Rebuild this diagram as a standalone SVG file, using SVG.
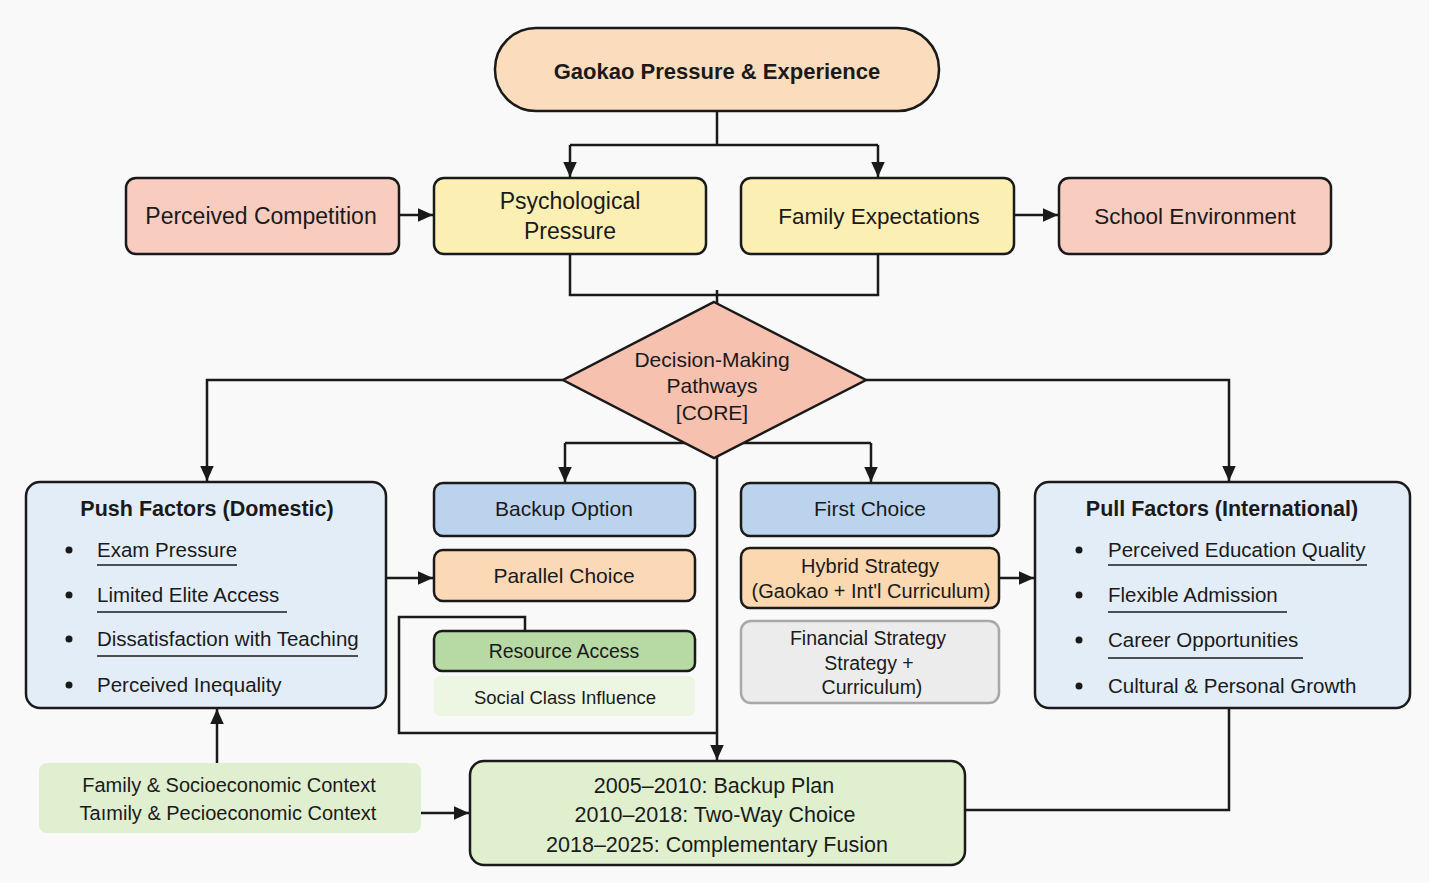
<svg xmlns="http://www.w3.org/2000/svg" width="1429" height="883" viewBox="0 0 1429 883">
<style>
text{font-family:"Liberation Sans",Arial,sans-serif;fill:#1a1a1a;text-anchor:middle}
.b{font-weight:bold}
.l{text-anchor:start}
.box{stroke:#1a1a1a;stroke-width:2.5}
.c{fill:none;stroke:#1a1a1a;stroke-width:2.5}
.u{stroke:#1a1a1a;stroke-width:1.6}
</style>
<defs>
<marker id="ah" viewBox="0 0 10 10" refX="10" refY="5" markerWidth="6" markerHeight="6" orient="auto" markerUnits="strokeWidth">
<path d="M0,0.5 L10,5 L0,9.5 z" fill="#1a1a1a"/>
</marker>
</defs>
<rect width="1429" height="883" fill="#f9f9f9"/>

<g id="connectors">
<path class="c" d="M717,111 V145"/>
<path class="c" d="M570,145 H878"/>
<path class="c" d="M570,145 V177" marker-end="url(#ah)"/>
<path class="c" d="M878,145 V177" marker-end="url(#ah)"/>
<path class="c" d="M399,215 H433" marker-end="url(#ah)"/>
<path class="c" d="M1014,215 H1058" marker-end="url(#ah)"/>
<path class="c" d="M570,254 V295 H878 V254"/>
<path class="c" d="M717,290 V304"/>
<path class="c" d="M563,380 H207 V481" marker-end="url(#ah)"/>
<path class="c" d="M866,380 H1229 V481" marker-end="url(#ah)"/>
<path class="c" d="M565,443 H871"/>
<path class="c" d="M565,443 V482" marker-end="url(#ah)"/>
<path class="c" d="M871,443 V482" marker-end="url(#ah)"/>
<path class="c" d="M717,455 V760" marker-end="url(#ah)"/>
<path class="c" d="M386,578 H433" marker-end="url(#ah)"/>
<path class="c" d="M999,578 H1034" marker-end="url(#ah)"/>
<path class="c" d="M525,631 V617 H399 V733 H717"/>
<path class="c" d="M217,763 V709" marker-end="url(#ah)"/>
<path class="c" d="M421,813 H469" marker-end="url(#ah)"/>
<path class="c" d="M1229,708 V810 H965"/>
</g>

<g id="gaokao">
<rect class="box" x="495" y="28" width="444" height="83" rx="41" fill="#fbdcbc"/>
<text class="b" x="717" y="79" font-size="22">Gaokao Pressure &amp; Experience</text>
</g>

<g id="perceived-competition">
<rect class="box" x="126" y="178" width="273" height="76" rx="10" fill="#f9ccc0"/>
<text x="261" y="224" font-size="23">Perceived Competition</text>
</g>
<g id="psychological-pressure">
<rect class="box" x="434" y="178" width="272" height="76" rx="10" fill="#fcefb4"/>
<text x="570" y="209" font-size="23">Psychological</text>
<text x="570" y="239" font-size="23">Pressure</text>
</g>
<g id="family-expectations">
<rect class="box" x="741" y="178" width="273" height="76" rx="10" fill="#fcefb4"/>
<text x="879" y="224" font-size="22.5">Family Expectations</text>
</g>
<g id="school-environment">
<rect class="box" x="1059" y="178" width="272" height="76" rx="10" fill="#f9ccc0"/>
<text x="1195" y="224" font-size="22.5">School Environment</text>
</g>

<g id="decision">
<polygon class="box" points="714,302 866,380 714,458 563,380" fill="#f7c1b0"/>
<text x="712" y="367" font-size="21">Decision-Making</text>
<text x="712" y="393" font-size="21">Pathways</text>
<text x="712" y="420" font-size="21">[CORE]</text>
</g>

<g id="push-factors">
<rect class="box" x="26" y="482" width="360" height="226" rx="14" fill="#e3edf7"/>
<text class="b" x="207" y="516" font-size="21.5">Push Factors (Domestic)</text>
<circle cx="69" cy="550" r="3.5" fill="#1a1a1a"/>
<text class="l" x="97" y="557" font-size="20.5">Exam Pressure</text>
<line class="u" x1="97" y1="565" x2="237" y2="565"/>
<circle cx="69" cy="595" r="3.5" fill="#1a1a1a"/>
<text class="l" x="97" y="602" font-size="20.5">Limited Elite Access</text>
<line class="u" x1="97" y1="612" x2="287" y2="612"/>
<circle cx="69" cy="639" r="3.5" fill="#1a1a1a"/>
<text class="l" x="97" y="646" font-size="20.5">Dissatisfaction with Teaching</text>
<line class="u" x1="97" y1="656" x2="358" y2="656"/>
<circle cx="69" cy="685" r="3.5" fill="#1a1a1a"/>
<text class="l" x="97" y="692" font-size="20.5">Perceived Inequality</text>
</g>

<g id="backup-option">
<rect class="box" x="434" y="483" width="261" height="53" rx="9" fill="#bcd3ee"/>
<text x="564" y="516" font-size="21">Backup Option</text>
</g>
<g id="parallel-choice">
<rect class="box" x="434" y="550" width="261" height="51" rx="9" fill="#fcd9b6"/>
<text x="564" y="583" font-size="21">Parallel Choice</text>
</g>
<g id="resource-access">
<rect class="box" x="434" y="631" width="261" height="40" rx="8" fill="#b7d9a3"/>
<text x="564" y="658" font-size="19.5">Resource Access</text>
</g>
<g id="social-class">
<rect x="434" y="676" width="261" height="40" rx="6" fill="#edf6e2"/>
<text x="565" y="704" font-size="18.5">Social Class Influence</text>
</g>

<g id="first-choice">
<rect class="box" x="741" y="483" width="258" height="53" rx="9" fill="#bcd3ee"/>
<text x="870" y="516" font-size="21">First Choice</text>
</g>
<g id="hybrid-strategy">
<rect class="box" x="741" y="548" width="258" height="60" rx="9" fill="#fbd8b0"/>
<text x="870" y="573" font-size="20">Hybrid Strategy</text>
<text x="871" y="598" font-size="20">(Gaokao + Int'l Curriculum)</text>
</g>
<g id="financial-strategy">
<rect x="741" y="621" width="258" height="82" rx="10" fill="#ececec" stroke="#a8a8a8" stroke-width="2.5"/>
<text x="868" y="645" font-size="19.5">Financial Strategy</text>
<text x="869" y="670" font-size="19.5">Strategy +</text>
<text x="872" y="694" font-size="19.5">Curriculum)</text>
</g>

<g id="pull-factors">
<rect class="box" x="1035" y="482" width="375" height="226" rx="14" fill="#e3edf7"/>
<text class="b" x="1222" y="516" font-size="21.5">Pull Factors (International)</text>
<circle cx="1079" cy="550" r="3.5" fill="#1a1a1a"/>
<text class="l" x="1108" y="557" font-size="20.5">Perceived Education Quality</text>
<line class="u" x1="1108" y1="565" x2="1367" y2="565"/>
<circle cx="1079" cy="595" r="3.5" fill="#1a1a1a"/>
<text class="l" x="1108" y="602" font-size="20.5">Flexible Admission</text>
<line class="u" x1="1108" y1="612" x2="1287" y2="612"/>
<circle cx="1079" cy="640" r="3.5" fill="#1a1a1a"/>
<text class="l" x="1108" y="647" font-size="20.5">Career Opportunities</text>
<line class="u" x1="1108" y1="658" x2="1303" y2="658"/>
<circle cx="1079" cy="686" r="3.5" fill="#1a1a1a"/>
<text class="l" x="1108" y="693" font-size="20.5">Cultural &amp; Personal Growth</text>
</g>

<g id="family-context">
<rect x="39" y="763" width="382" height="70" rx="8" fill="#e0efcf"/>
<text x="229" y="792" font-size="20">Family &amp; Socioeconomic Context</text>
<text x="228" y="820" font-size="20">Taımily &amp; Pecioeconomic Context</text>
</g>

<g id="timeline">
<rect class="box" x="470" y="761" width="495" height="104" rx="14" fill="#e0f0cf"/>
<text x="714" y="793" font-size="21.5">2005–2010: Backup Plan</text>
<text x="715" y="822" font-size="21.5">2010–2018: Two-Way Choice</text>
<text x="717" y="852" font-size="21.5">2018–2025: Complementary Fusion</text>
</g>
</svg>
